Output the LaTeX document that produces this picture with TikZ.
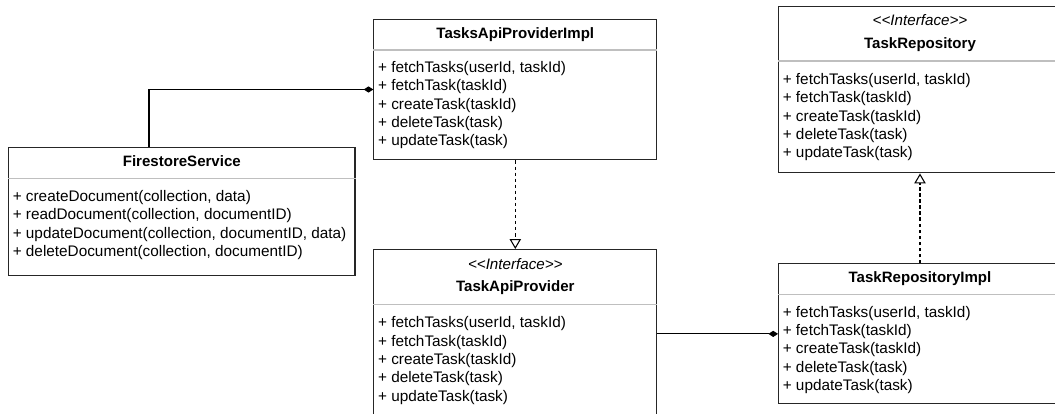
\documentclass[tikz,border=0pt]{standalone}
\usepackage{fontspec}
\usepackage{tikz}
\usepackage{xcolor}
\usetikzlibrary{arrows.meta, positioning, calc}

\newfontfamily\umlfont{Liberation Sans}

\begin{document}
\begin{tikzpicture}[
    x=0.025cm, y=-0.025cm,
    classbox/.style={
        rectangle,
        draw=black!85,
        fill=white,
        line width=0.8pt,
        inner sep=0pt,
        anchor=north west,
        minimum width=7.07cm
    },
    title/.style={
        inner sep=0pt,
        text height=7.7pt,
        text depth=0pt,
        font=\umlfont\bfseries\fontsize{10.7}{13}\selectfont
    },
    stereo/.style={
        inner sep=0pt,
        text height=7.7pt,
        text depth=0pt,
        font=\umlfont\itshape\fontsize{10.8}{13}\selectfont
    },
    ops/.style={
        anchor=north west,
        align=left,
        inner sep=0pt,
        font=\umlfont\fontsize{10.9}{13}\selectfont
    },
    divider/.style={draw=black!25, line width=0.8pt},
    compose/.style={line width=0.75pt, -{Diamond[length=6.8pt, width=4.4pt]}},
    realize/.style={line width=0.75pt, dash pattern=on 2.5pt off 1.8pt,
        -{Triangle[open, fill=white, length=7pt, width=8pt]}}
]
    \useasboundingbox (0,0) rectangle (1055,414);
    \clip (0,0) rectangle (1055,414);

    % =========================================================
    % CLASS BOXES
    % =========================================================
    \node [classbox, minimum width=8.66cm, minimum height=3.21cm] (firestore) at (8,146.7) {};
    \node [title] (firestoreName) at ($(firestore.north)+(0,14.5)$) {FirestoreService};
    \draw [divider] ($(firestore.north west)+(0,31.6)$) -- ($(firestore.north east)+(0,31.6)$);
    \node [ops] (firestoreOps) at ($(firestore.north west)+(4.5,43.5)$)
        {+ createDocument(collection, data)\\
         + readDocument(collection, documentID)\\
         + updateDocument(collection, documentID, data)\\
         + deleteDocument(collection, documentID)};

    \node [classbox, minimum height=3.52cm] (apiImpl) at (373.3,18.5) {};
    \node [title] (apiImplName) at ($(apiImpl.north)+(0,14.5)$) {TasksApiProviderImpl};
    \draw [divider] ($(apiImpl.north west)+(0,31.5)$) -- ($(apiImpl.north east)+(0,31.5)$);
    \node [ops] (apiImplOps) at ($(apiImpl.north west)+(4.5,42.8)$)
        {+ fetchTasks(userId, taskId)\\
         + fetchTask(taskId)\\
         + createTask(taskId)\\
         + deleteTask(task)\\
         + updateTask(task)};

    \node [classbox, minimum height=5cm] (apiProvider) at (373.3,249) {};
    \node [stereo] (apiProviderTag) at ($(apiProvider.north)+(0,14.7)$) {<\kern0pt<Interface>\kern0pt>};
    \node [title] (apiProviderName) at ($(apiProvider.north)+(0,37.5)$) {TaskApiProvider};
    \draw [divider] ($(apiProvider.north west)+(0,55.3)$) -- ($(apiProvider.north east)+(0,55.3)$);
    \node [ops] (apiProviderOps) at ($(apiProvider.north west)+(4.5,67.5)$)
        {+ fetchTasks(userId, taskId)\\
         + fetchTask(taskId)\\
         + createTask(taskId)\\
         + deleteTask(task)\\
         + updateTask(task)};

    \node [classbox, minimum height=4.165cm] (repo) at (778,5.7) {};
    \node [stereo] (repoTag) at ($(repo.north)+(0,14.7)$) {<\kern0pt<Interface>\kern0pt>};
    \node [title] (repoName) at ($(repo.north)+(0,37)$) {TaskRepository};
    \draw [divider] ($(repo.north west)+(0,55.3)$) -- ($(repo.north east)+(0,55.3)$);
    \node [ops] (repoOps) at ($(repo.north west)+(4.5,67.5)$)
        {+ fetchTasks(userId, taskId)\\
         + fetchTask(taskId)\\
         + createTask(taskId)\\
         + deleteTask(task)\\
         + updateTask(task)};

    \node [classbox, minimum height=3.5cm] (repoImpl) at (778,263.3) {};
    \node [title] (repoImplName) at ($(repoImpl.north)+(0,14)$) {TaskRepositoryImpl};
    \draw [divider] ($(repoImpl.north west)+(0,31)$) -- ($(repoImpl.north east)+(0,31)$);
    \node [ops] (repoImplOps) at ($(repoImpl.north west)+(4.5,42.5)$)
        {+ fetchTasks(userId, taskId)\\
         + fetchTask(taskId)\\
         + createTask(taskId)\\
         + deleteTask(task)\\
         + updateTask(task)};

    % =========================================================
    % RELATIONS
    % =========================================================
    \draw [compose] ($(firestore.north west)+(141,0)$) |- (apiImpl.west);
    \draw [realize] (apiImpl.south) -- (apiProvider.north);
    \draw [compose] (repoImpl.west -| apiProvider.east) -- (repoImpl.west);
    \draw [realize] (repoImpl.north) -- (repo.south);

\end{tikzpicture}
\end{document}
